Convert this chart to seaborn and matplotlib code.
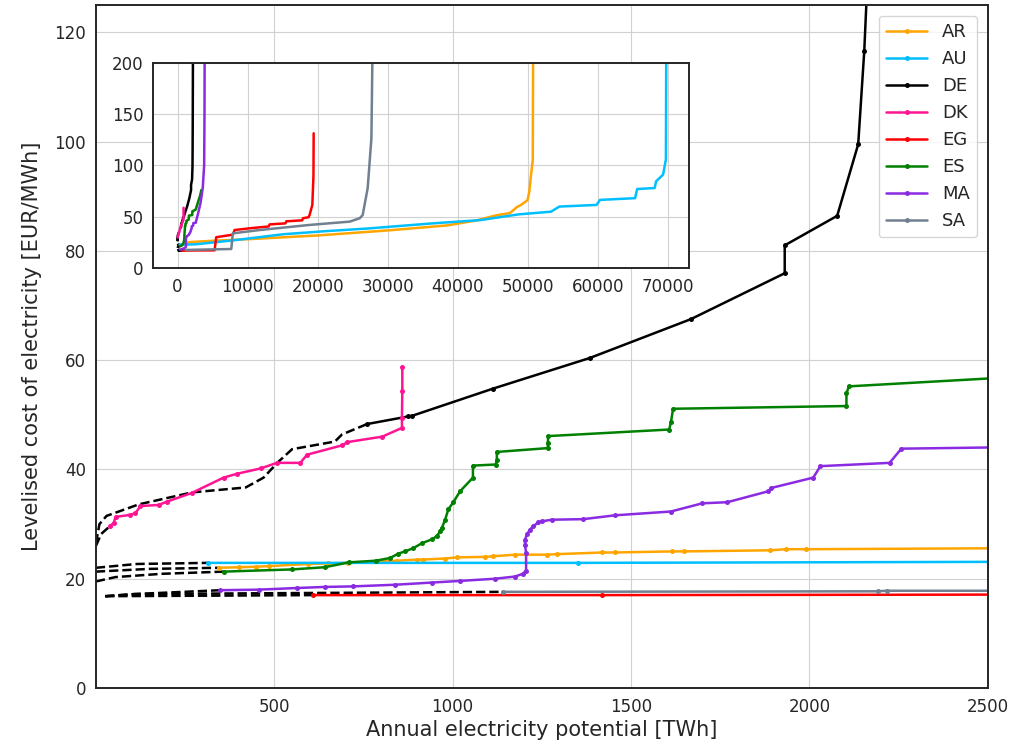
import numpy as np
import pandas as pd
import seaborn as sns
from matplotlib import pyplot as plt

# Supply curves: cumulative potential [TWh] vs LCOE [EUR/MWh]
countries = ["AR", "AU", "DE", "DK", "EG", "ES", "MA", "SA"]
colors = ["orange", "deepskyblue", "black", "deeppink", "red", "green", "blueviolet", "slategray"]

ar_x = [344, 400, 450, 484, 596, 650, 708, 845, 900, 917, 979, 1012, 1091, 1113, 1175, 1264, 1293, 1419,
        1455, 1615, 1650, 1890, 1935, 1990, 2600, 5000, 10990, 19970, 29970, 38460, 42700, 45450, 47450,
        48450, 48950, 49950, 50200, 50450, 50700, 50750]
ar_y = [22.0, 22.1, 22.2, 22.3, 22.7, 22.8, 22.9, 23.3, 23.5, 23.5, 23.7, 23.9, 24.0, 24.1, 24.4, 24.4, 24.5, 24.8,
        24.8, 25.0, 25.0, 25.2, 25.4, 25.4, 25.6, 26.5, 28.4, 31.7, 36.6, 41.5, 46.4, 51.3, 53.6,
        59.5, 61.2, 66.1, 74.3, 90.6, 105.4, 210]

au_x = [315, 1352, 2600, 8040, 15080, 21100, 27140, 36180, 43200, 48700, 53300, 54500, 59800, 60300,
        65300, 65600, 68100, 68300, 69300, 69700, 69750]
au_y = [22.9, 22.9, 23.1, 27.0, 32.9, 35.9, 38.5, 43.4, 46.7, 52.3, 54.9, 59.9, 61.5, 66.4,
        68.1, 77.0, 78.0, 84.5, 91.1, 105.9, 210]

de_x = [760, 876, 886, 1114, 1385, 1668, 1931, 1931, 2078, 2137, 2154, 2170, 2190, 2200]
de_y = [48.3, 49.7, 49.8, 54.8, 60.4, 67.5, 75.9, 81.0, 86.4, 99.5, 116.6, 140, 180, 210]

dk_x = [40.6, 50, 55, 97, 111, 125, 176, 199, 269, 358, 395, 463, 507, 573, 592, 690, 705, 803, 858, 858, 859, 859]
dk_y = [29.7, 30.2, 31.3, 31.7, 32.0, 33.3, 33.5, 34.1, 35.7, 38.5, 39.2, 40.2, 41.2, 41.2, 42.7, 44.4, 45.0, 46.0,
        47.6, 49.4, 54.4, 58.7]

eg_x = [610, 1420, 2600, 5290, 5520, 7900, 8140, 10290, 13000, 13140, 15400, 15520, 17800, 17900, 18700,
        18860, 19240, 19400, 19430]
eg_y = [17.0, 17.0, 17.1, 17.2, 30.0, 32.5, 37.0, 38.7, 40.5, 42.5, 43.5, 45.5, 46.5, 48.5, 49.5,
        52.0, 61.5, 90.0, 131.4]

es_x = [358, 549, 641, 710, 785, 825, 848, 867, 890, 914, 942, 956, 965, 970, 979, 988, 1002, 1021, 1057,
        1057, 1121, 1124, 1124, 1267, 1267, 1268, 1607, 1612, 1618, 2104, 2104, 2111, 2600, 3000, 3200, 3400]
es_y = [21.3, 21.7, 22.1, 23.0, 23.3, 23.8, 24.6, 25.0, 25.6, 26.5, 27.2, 27.8, 28.7, 29.3, 30.8, 32.7, 34.0,
        36.0, 38.5, 40.7, 40.9, 41.8, 43.2, 43.9, 44.9, 46.1, 47.3, 48.6, 51.1, 51.6, 53.9, 55.2, 57.0, 66, 70, 76]

ma_x = [349, 456, 563, 643, 722, 839, 942, 1021, 1119, 1175, 1197, 1206, 1206, 1203, 1203, 1208, 1217, 1226,
        1240, 1250, 1278, 1366, 1455, 1612, 1700, 1770, 1885, 1893, 2011, 2031, 2225, 2258, 2600, 3000, 3300,
        3600, 3800, 3850, 3870]
ma_y = [17.9, 18.0, 18.3, 18.5, 18.6, 18.9, 19.3, 19.6, 20.0, 20.4, 20.9, 21.5, 24.7, 26.2, 27.1, 28.1, 29.0,
        29.6, 30.3, 30.5, 30.8, 30.9, 31.6, 32.3, 33.8, 34.0, 36.0, 36.6, 38.5, 40.6, 41.2, 43.8, 44.1, 55, 64,
        78, 100, 150, 210]

sa_x = [1140, 2192, 2217, 2600, 7670, 7900, 11710, 18860, 24570, 26000, 26430, 27140, 27670, 27800, 27850]
sa_y = [17.6, 17.7, 17.8, 17.8, 18.5, 33.8, 37.0, 42.0, 45.2, 48.5, 51.7, 78.0, 126.5, 198, 210]

# dashed black lead-in segments (from ~0 TWh to start of each curve)
dash_de_x = [0, 10, 30, 120, 270, 420, 470, 510, 550, 670, 690, 760]
dash_de_y = [26.5, 30.0, 31.5, 33.6, 35.8, 36.7, 38.5, 41.3, 43.7, 45.1, 46.4, 48.3]
dash_dk_x = [0, 15, 40.6]
dash_dk_y = [26.0, 28.2, 29.7]
dash_au_x = [0, 115, 315]
dash_au_y = [22.0, 22.7, 22.9]
dash_ar_x = [0, 150, 344]
dash_ar_y = [21.3, 21.8, 22.0]
dash_es_x = [0, 55, 185, 358]
dash_es_y = [19.5, 20.3, 20.9, 21.3]
dash_ma_x = [26, 110, 349]
dash_ma_y = [16.8, 17.2, 17.9]
dash_eg_x = [26, 610]
dash_eg_y = [16.8, 17.0]
dash_sa_x = [26, 110, 1140]
dash_sa_y = [16.8, 17.2, 17.6]

curves = {"AR": (ar_x, ar_y), "AU": (au_x, au_y), "DE": (de_x, de_y), "DK": (dk_x, dk_y),
          "EG": (eg_x, eg_y), "ES": (es_x, es_y), "MA": (ma_x, ma_y), "SA": (sa_x, sa_y)}
dashes = [(dash_de_x, dash_de_y), (dash_dk_x, dash_dk_y), (dash_au_x, dash_au_y), (dash_ar_x, dash_ar_y),
          (dash_es_x, dash_es_y), (dash_ma_x, dash_ma_y), (dash_eg_x, dash_eg_y), (dash_sa_x, dash_sa_y)]

df = pd.concat([pd.DataFrame({"potential": x, "lcoe": y, "country": c}) for c, (x, y) in curves.items()],
               ignore_index=True)
palette = dict(zip(countries, colors))

sns.set_style("whitegrid", {"axes.edgecolor": ".15", "grid.color": ".82"})
plt.rcParams["axes.linewidth"] = 1.4

fig = plt.figure(figsize=(10.31, 7.54), dpi=100)
ax = fig.add_axes([0.093, 0.0875, 0.865, 0.906])

# dashed lead-ins
for dx, dy in dashes:
    sns.lineplot(x=dx, y=dy, color="black", linestyle="--", linewidth=1.8, sort=False,
                 estimator=None, legend=False, ax=ax)

sns.lineplot(data=df, x="potential", y="lcoe", hue="country", hue_order=countries, palette=palette,
             marker="o", markersize=3.6, markeredgewidth=0, linewidth=1.8, sort=False, estimator=None, ax=ax)

ax.set_xlim(0, 2500)
ax.set_ylim(0, 125)
ax.set_xticks([500, 1000, 1500, 2000, 2500])
ax.set_yticks([0, 20, 40, 60, 80, 100, 120])
ax.tick_params(labelsize=12, colors=".15")
label_font = dict(fontsize=15, color=".15")
ax.set_xlabel("Annual electricity potential [TWh]", labelpad=3, **label_font)
ax.set_ylabel("Levelised cost of electricity [EUR/MWh]", labelpad=9, **label_font)

handles, labels = ax.get_legend_handles_labels()
keep = [(h, l) for h, l in zip(handles, labels) if l in countries]
ax.legend([h for h, _ in keep], [l for _, l in keep], loc="upper right", fontsize=13,
          handlelength=2.3, borderaxespad=0.6)

# inset with the full curves
axin = fig.add_axes([0.1484, 0.6446, 0.5199, 0.2719])
for dx, dy in dashes:
    sns.lineplot(x=dx, y=dy, color="black", linestyle="--", linewidth=1.8, sort=False,
                 estimator=None, legend=False, ax=axin)
sns.lineplot(data=df, x="potential", y="lcoe", hue="country", hue_order=countries, palette=palette,
             linewidth=1.8, sort=False, estimator=None, legend=False, ax=axin)
axin.set_xlim(-3500, 73000)
axin.set_ylim(0, 200)
axin.set_xticks(np.arange(0, 70001, 10000))
axin.set_yticks([0, 50, 100, 150, 200])
axin.set_xlabel("")
axin.set_ylabel("")
axin.tick_params(labelsize=12, colors=".15")

plt.savefig("out.png", dpi=100)
